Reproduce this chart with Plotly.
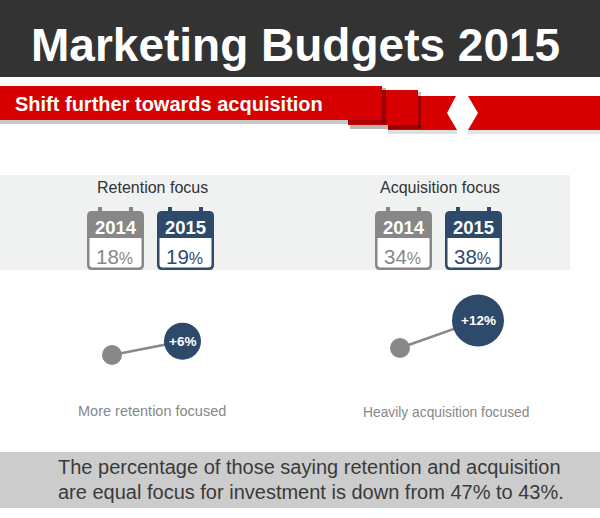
import plotly.graph_objects as go

# ---------------- data ----------------
title_text = "Marketing Budgets 2015"
subtitle_text = "Shift further towards acquisition"
groups = ["Retention focus", "Acquisition focus"]
years = ["2014", "2015"]
share_2014 = [18, 34]
share_2015 = [19, 38]
captions = ["More retention focused", "Heavily acquisition focused"]
footnote_lines = [
    "The percentage of those saying retention and acquisition",
    "are equal focus for investment is down from 47% to 43%.",
]

# ---------------- style / layout ----------------
W, H = 600, 518
FONT = "Liberation Sans, Arial, sans-serif"
DARK = "#333333"
RED = "#D60000"
BLUE = "#2D4A6B"
GREY = "#878787"
BAND = "#F0F2F2"
group_cx = [152, 440]
cal_offsets = [-65, 5]
cal_colors = [GREY, BLUE]
dot_base_y = [355, 348]
caption_dx = [0, 6]
caption_size = [14.5, 13.8]

fig = go.Figure()
shapes = []
ann = []


def rect(x0, y0, x1, y1, color, layer="below"):
    shapes.append(dict(type="rect", xref="x", yref="y", x0=x0, y0=y0, x1=x1, y1=y1,
                       fillcolor=color, line=dict(width=0), layer=layer))


def poly(pts, color):
    d = "M " + " L ".join(f"{x},{y}" for x, y in pts) + " Z"
    shapes.append(dict(type="path", xref="x", yref="y", path=d, fillcolor=color,
                       line=dict(width=0), layer="below"))


def rrect(x0, y0, x1, y1, r, color, top=True, bottom=True):
    rt = r if top else 0
    rb = r if bottom else 0
    d = (f"M {x0+rt},{y0} L {x1-rt},{y0} Q {x1},{y0} {x1},{y0+rt} "
         f"L {x1},{y1-rb} Q {x1},{y1} {x1-rb},{y1} L {x0+rb},{y1} "
         f"Q {x0},{y1} {x0},{y1-rb} L {x0},{y0+rt} Q {x0},{y0} {x0+rt},{y0} Z")
    shapes.append(dict(type="path", xref="x", yref="y", path=d, fillcolor=color,
                       line=dict(width=0), layer="below"))


def text(x, y, s, size, color, bold=False, xanchor="center"):
    if bold:
        s = f"<b>{s}</b>"
    ann.append(dict(x=x, y=y, xref="x", yref="y", text=s, showarrow=False,
                    xanchor=xanchor, yanchor="middle",
                    font=dict(family=FONT, size=size, color=color)))


# header
rect(0, 0, W, 77, DARK)
text(295, 45, title_text, 46, "white", bold=True)

# ribbon (back to front)
rect(468, 130, 600, 134, "rgba(0,0,0,0.10)")
poly([(468, 96), (600, 96), (600, 130), (468, 130), (478, 113)], RED)
rect(388, 130, 457, 134, "rgba(0,0,0,0.12)")
poly([(388, 96), (456, 96), (447, 113), (457, 130), (388, 130)], RED)
rect(348, 90, 418, 125, RED)
rect(418, 92, 421, 128, "rgba(0,0,0,0.25)")
rect(350, 125, 421, 129, "rgba(0,0,0,0.28)")
rect(0, 86, 382, 120, RED)
rect(382, 88, 386, 123, "rgba(0,0,0,0.28)")
rect(0, 120, 386, 124, "rgba(0,0,0,0.22)")
text(13, 104, subtitle_text, 20, "white", bold=True, xanchor="left")

# light band with calendars
rect(0, 175, 570, 270, BAND)
for g, cx in enumerate(group_cx):
    text(cx, 187, groups[g], 16, DARK)
    vals = [share_2014[g], share_2015[g]]
    for k, off in enumerate(cal_offsets):
        x0 = cx + off
        col = cal_colors[k]
        rrect(x0, 211, x0 + 57, 270, 5, col)
        rrect(x0 + 2.5, 238, x0 + 54.5, 267.5, 3, "white", top=False)
        rect(x0 + 11, 207, x0 + 15, 213, col)
        rect(x0 + 42, 207, x0 + 46, 213, col)
        text(x0 + 28.5, 227, years[k], 18.5, "white", bold=True)
        text(x0 + 27.5, 256, f"{vals[k]}<span style='font-size:16px'>%</span>", 20.5, col)

# change dots
for g, cx in enumerate(group_cx):
    change = round(100 * (share_2015[g] - share_2014[g]) / share_2014[g])
    r = 11 + 1.25 * change
    gx, gy = cx - 40, dot_base_y[g]
    bx, by = gx + 62 + (r - 10), gy - 2.3 * change
    fig.add_trace(go.Scatter(x=[gx, bx], y=[gy, by], mode="lines",
                             line=dict(color="#888888", width=2.5),
                             hoverinfo="skip", showlegend=False))
    fig.add_trace(go.Scatter(x=[gx], y=[gy], mode="markers",
                             marker=dict(size=20, color="#888888", line=dict(width=0)),
                             hoverinfo="skip", showlegend=False))
    fig.add_trace(go.Scatter(x=[bx], y=[by], mode="markers",
                             marker=dict(size=2 * r, color=BLUE, line=dict(width=0)),
                             hoverinfo="skip", showlegend=False))
    text(bx, by, f"+{change}%", 13.5, "white", bold=True)
    text(cx + caption_dx[g], 411 + g * 1.5, captions[g], caption_size[g], "#888888")

# footnote bar
rect(0, 452, W, 508, "#CCCCCC")
text(56, 467, footnote_lines[0], 20, "#3A3A3A", xanchor="left")
text(56, 492, footnote_lines[1], 20, "#3A3A3A", xanchor="left")

fig.update_layout(
    width=W, height=H, margin=dict(l=0, r=0, t=0, b=0),
    paper_bgcolor="white", plot_bgcolor="white",
    xaxis=dict(range=[0, W], visible=False, fixedrange=True),
    yaxis=dict(range=[H, 0], visible=False, fixedrange=True),
    shapes=shapes, annotations=ann, showlegend=False,
)
fig.write_html("out.html", config={"displayModeBar": False},
               post_script="document.body.style.margin='0px';document.body.style.overflow='hidden';")
